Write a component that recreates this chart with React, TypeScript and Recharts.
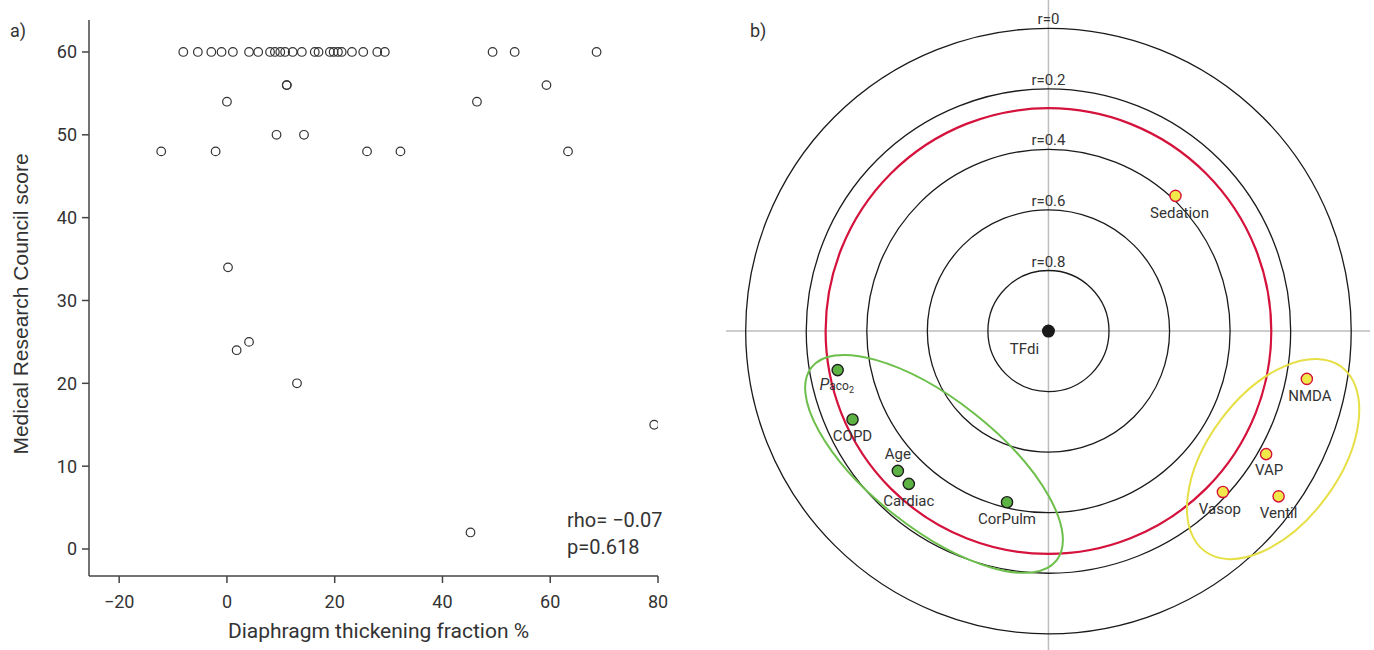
import React from 'react';
import { ScatterChart, Scatter, XAxis, YAxis, ReferenceDot, ReferenceLine, Label } from 'recharts';

// panel a) diaphragm thickening fraction (%) against MRC score, one entry per patient
const thickeningFraction = [
  -8.1, -5.4, -2.9, -1.0, 1.1, 4.1, 5.8, 8.0, 8.9, 9.9, 10.8, 12.2, 13.9,
  16.3, 17.0, 19.1, 19.8, 20.6, 21.3, 23.2, 25.3, 27.9, 29.3, 49.3, 53.4, 68.6,
  0.0, 46.4, 11.1, 11.1, 59.3, -12.2, -2.1, 26.0, 32.2, 63.3, 9.2, 14.3,
  0.2, 4.1, 1.8, 13.0, 79.3, 45.2,
];
const mrcScore = [
  60, 60, 60, 60, 60, 60, 60, 60, 60, 60, 60, 60, 60,
  60, 60, 60, 60, 60, 60, 60, 60, 60, 60, 60, 60, 60,
  54, 54, 56, 56, 56, 48, 48, 48, 48, 48, 50, 50,
  34, 25, 24, 20, 15, 2,
];
const xTicksA = [-20, 0, 20, 40, 60, 80];
const yTicksA = [0, 10, 20, 30, 40, 50, 60];
const rhoText = 'rho= \u22120.07';
const pText = 'p=0.618';

// panel b) correlation map around TFdi: |r| and direction of each factor
const factorNames = ['Sedation', 'Paco2', 'COPD', 'Age', 'Cardiac', 'CorPulm', 'NMDA', 'VAP', 'Vasop', 'Ventil'];
const factorCorr = [0.387, 0.292, 0.29, 0.321, 0.316, 0.418, 0.132, 0.174, 0.216, 0.064];
const factorAngle = [46.8, 190.5, 204.3, 222.9, 227.6, 256.4, 349.5, 330.5, 317.3, 324.3];
const factorCluster = ['y', 'g', 'g', 'g', 'g', 'g', 'y', 'y', 'y', 'y'];
const ringLevels = [0, 0.2, 0.4, 0.6, 0.8];
const significanceLevel = 0.264;

const scatterA = thickeningFraction.map((x, i) => ({ x, y: mrcScore[i] }));
const factorPoints = factorNames.map((name, i) => {
  const d = 1 - factorCorr[i];
  const a = (factorAngle[i] * Math.PI) / 180;
  return { x: d * Math.cos(a), y: d * Math.sin(a), name, cluster: factorCluster[i] };
});
const centerPoint = [{ x: 0, y: 0, name: 'TFdi', cluster: 'c' }];

// layout for panel b
const B_WIDTH = 674;
const B_MARGIN = { top: 0, right: 4, bottom: 0, left: 26 };
const B_X_DOMAIN: [number, number] = [-1.065, 1.062];
const B_Y_DOMAIN: [number, number] = [-1.054, 1.094];
const UNIT = (B_WIDTH - B_MARGIN.left - B_MARGIN.right) / (B_X_DOMAIN[1] - B_X_DOMAIN[0]);

const ellipses = [
  { x: -0.378, y: -0.439, rx: 0.515, ry: 0.213, tilt: -38.2, color: '#6cbf4a' },
  { x: 0.742, y: -0.423, rx: 0.379, ry: 0.216, tilt: 53.5, color: '#e6df45' },
];
const labelShift: Record<string, [number, number]> = {
  Sedation: [4, 0], NMDA: [3, 0], VAP: [3, -1], Vasop: [-3, 0], Paco2: [-1, -2],
};

const FONT = 'Roboto, sans-serif';
const TEXT = '#333';

const OpenCircle = (p: any) => (
  <circle cx={p.cx} cy={p.cy} r={4.3} fill="none" stroke="#333" strokeWidth={1.2} />
);

const FactorDot = (p: any) => {
  const { cx, cy, payload } = p;
  const green = payload.cluster === 'g';
  const above = payload.name === 'Age';
  const [sx, sy] = labelShift[payload.name] || [0, 0];
  const ty = (above ? cy - 12 : cy + 22) + sy;
  const tx = cx + sx;
  return (
    <g>
      <circle cx={cx} cy={cy} r={5.6} fill={green ? '#5cb243' : '#f1e84a'} stroke={green ? '#1e1e1e' : '#d4123c'} strokeWidth={1.4} />
      {payload.name === 'Paco2' ? (
        <text x={tx} y={ty} textAnchor="middle" fontFamily={FONT} fill={TEXT}>
          <tspan fontStyle="italic" fontSize={16}>P</tspan>
          <tspan fontSize={12}>aco</tspan>
          <tspan fontSize={9} dy={3}>2</tspan>
        </text>
      ) : (
        <text x={tx} y={ty} textAnchor="middle" fontFamily={FONT} fontSize={15} fill={TEXT}>
          {payload.name}
        </text>
      )}
    </g>
  );
};

const CenterDot = (p: any) => (
  <g>
    <circle cx={p.cx} cy={p.cy} r={6.5} fill="#1a1a1a" />
    <text x={p.cx - 24} y={p.cy + 23} textAnchor="middle" fontFamily={FONT} fontSize={15} fill={TEXT}>
      {p.payload.name}
    </text>
  </g>
);

const minusFmt = (v: number) => (v < 0 ? `\u2212${-v}` : `${v}`);

function PanelA() {
  return (
    <ScatterChart width={700} height={650} margin={{ top: 20, right: 42, bottom: 4, left: 0 }}>
      <XAxis
        dataKey="x"
        type="number"
        domain={[-25.6, 80]}
        ticks={xTicksA}
        allowDataOverflow
        height={70}
        tickSize={7}
        tickMargin={12}
        tickFormatter={minusFmt}
        tick={{ fontSize: 18, fill: TEXT, fontFamily: FONT }}
        axisLine={{ stroke: '#444', strokeWidth: 1.5 }}
        tickLine={{ stroke: '#444', strokeWidth: 1.5 }}
      >
        <Label
          content={(props: any) => {
            const vb = props.viewBox;
            return (
              <text x={vb.x + vb.width / 2 + 5} y={638} textAnchor="middle" fontFamily={FONT} fontSize={21} fill={TEXT}>
                Diaphragm thickening fraction %
              </text>
            );
          }}
        />
      </XAxis>
      <YAxis
        dataKey="y"
        type="number"
        domain={[-3.26, 63.86]}
        ticks={yTicksA}
        allowDataOverflow
        width={89}
        tickSize={7}
        tickMargin={5}
        tick={{ fontSize: 18, fill: TEXT, fontFamily: FONT }}
        axisLine={{ stroke: '#444', strokeWidth: 1.5 }}
        tickLine={{ stroke: '#444', strokeWidth: 1.5 }}
      >
        <Label
          content={() => (
            <text
              transform="translate(28,304) rotate(-90)"
              textAnchor="middle"
              fontFamily="'Liberation Sans', Arial, sans-serif"
              fontSize={21}
              fill={TEXT}
            >
              Medical Research Council score
            </text>
          )}
        />
      </YAxis>
      <Scatter data={scatterA} isAnimationActive={false} shape={OpenCircle} />
    </ScatterChart>
  );
}

function PanelB() {
  return (
    <ScatterChart width={B_WIDTH} height={650} margin={B_MARGIN}>
      <XAxis dataKey="x" type="number" domain={B_X_DOMAIN} allowDataOverflow hide />
      <YAxis dataKey="y" type="number" domain={B_Y_DOMAIN} allowDataOverflow hide />
      <ReferenceLine x={0} stroke="#bdbdbd" strokeWidth={1.5} />
      <ReferenceLine y={0} stroke="#bdbdbd" strokeWidth={1.5} />
      {ringLevels.map((lv) => (
        <ReferenceDot key={`ring${lv}`} x={0} y={0} r={(1 - lv) * UNIT} fill="none" stroke="#1a1a1a" strokeWidth={1.3} />
      ))}
      <ReferenceDot x={0} y={0} r={(1 - significanceLevel) * UNIT} fill="none" stroke="#d4123c" strokeWidth={2.2} />
      {ringLevels.map((lv) => (
        <ReferenceDot
          key={`lab${lv}`}
          x={0}
          y={1 - lv}
          r={1}
          shape={(p: any) => (
            <text x={p.cx} y={p.cy - 4} textAnchor="middle" fontFamily={FONT} fontSize={15} fill={TEXT}>
              {`r=${lv}`}
            </text>
          )}
        />
      ))}
      {ellipses.map((e, i) => (
        <ReferenceDot
          key={`ell${i}`}
          x={e.x}
          y={e.y}
          r={1}
          shape={(p: any) => (
            <ellipse
              cx={p.cx}
              cy={p.cy}
              rx={e.rx * UNIT}
              ry={e.ry * UNIT}
              transform={`rotate(${-e.tilt} ${p.cx} ${p.cy})`}
              fill="none"
              stroke={e.color}
              strokeWidth={2}
            />
          )}
        />
      ))}
      <Scatter data={centerPoint} isAnimationActive={false} shape={CenterDot} />
      <Scatter data={factorPoints} isAnimationActive={false} shape={FactorDot} />
    </ScatterChart>
  );
}

export default function App() {
  return (
    <div style={{ position: 'absolute', left: 0, top: 0, width: 1374, height: 650, background: '#fff', fontFamily: FONT, color: TEXT }}>
      <div style={{ position: 'absolute', left: 0, top: 0 }}>
        <PanelA />
      </div>
      <div style={{ position: 'absolute', left: 700, top: 0 }}>
        <PanelB />
      </div>
      <div style={{ position: 'absolute', left: 10, top: 20, fontSize: 18 }}>a)</div>
      <div style={{ position: 'absolute', left: 750, top: 20, fontSize: 18 }}>b)</div>
      <div style={{ position: 'absolute', left: 567, top: 507, fontSize: 20, lineHeight: '27px' }}>
        <div>{rhoText}</div>
        <div>{pText}</div>
      </div>
    </div>
  );
}
